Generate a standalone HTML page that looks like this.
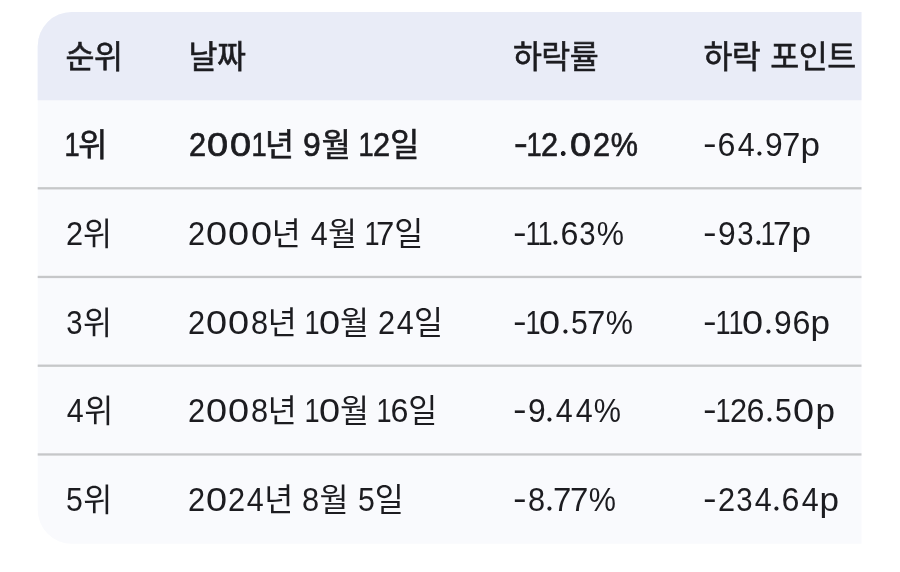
<!DOCTYPE html>
<html lang="ko">
<head>
<meta charset="utf-8">
<title>KOSPI 하락률 순위</title>
<style>
html,body{margin:0;padding:0;background:#fff}
body{width:900px;height:572px;overflow:hidden;position:relative;font-family:"Liberation Sans","Noto Sans CJK KR",sans-serif;color:#1c1c20}
#bg{position:absolute;left:0;top:0;width:900px;height:572px;display:block}
.row{will-change:transform;position:absolute;left:0;width:900px;height:60px;line-height:60px;font-size:34.0px;white-space:nowrap}
.c{position:absolute;top:0;left:0;height:60px;white-space:nowrap}
.c i{display:inline-block;font-style:normal;text-align:left;white-space:pre;transform-origin:0 41.78px}
.b i{-webkit-text-stroke:0.7px #1c1c20}
.c i.k{width:28.40px;font-size:31.5px;font-family:"Liberation Sans","Noto Sans CJK KR",sans-serif;color:#1c1c20}
.hd i.k{-webkit-text-stroke:0.6px #1c1c20}
.c i.one{width:12.55px;transform:translateX(-0.5px) scaleX(0.8)}
.b i.one{width:12.93px}
.d0{width:22.32px;transform:translateX(1.02px) scaleX(1.114)}
.b .d0{width:22.99px}
.d2{width:17.88px;transform:translateX(1.05px) scaleX(0.904)}
.b .d2{width:18.42px}
.d3{width:17.98px;transform:translateX(1.37px) scaleX(0.862)}
.b .d3{width:18.52px}
.d4{width:19.20px;transform:translateX(1.80px) scaleX(0.896)}
.b .d4{width:19.78px}
.d5{width:18.21px;transform:translateX(1.01px) scaleX(0.890)}
.b .d5{width:18.76px}
.d6{width:18.69px;transform:translateX(0.45px) scaleX(0.947)}
.b .d6{width:19.25px}
.d7{width:17.04px;transform:translateX(-0.98px) scaleX(0.970)}
.b .d7{width:17.55px}
.d8{width:18.30px;transform:translateX(0.90px) scaleX(0.903)}
.b .d8{width:18.85px}
.d9{width:18.81px;transform:translateX(0.99px) scaleX(0.936)}
.b .d9{width:19.37px}
.dt{width:9.06px;color:transparent;-webkit-text-stroke:0 !important;background:radial-gradient(circle at 4.45px 39.53px,#1c1c20 1.70px,transparent 2.40px)}
.b .dt{width:10.53px;background:radial-gradient(circle at 5.18px 39.53px,#1c1c20 2.05px,transparent 2.75px)}
.mn{width:13.76px;transform:translate(0.08px,-1.40px) scale(1.204,1.000)}
.b .mn{width:14.17px}
.pc{width:28.50px;transform:translateX(0.83px) scaleX(0.899)}
.b .pc{width:29.36px}
.lp{width:19.50px;transform:translateX(0.60px) scaleX(1.032)}
.b .lp{width:20.09px}
.sp{width:8.60px}.b .sp{width:8.86px}.hd .sp{width:10.20px}
</style>
</head>
<body>
<svg id="bg" viewBox="0 0 900 572" aria-hidden="true">
<path fill="#f9fafd" d="M861.5 12.0 H71.7 A34 34 0 0 0 37.7 46.0 V509.79999999999995 A34 34 0 0 0 71.7 543.8 H861.5 Z"/>
<path fill="#e9ecf7" d="M861.5 12.0 H71.7 A34 34 0 0 0 37.7 46.0 V100.2 H861.5 Z"/>
<rect fill="#c6c7c9" x="37.7" y="187.15" width="823.80" height="2.3"/>
<rect fill="#c6c7c9" x="37.7" y="275.80" width="823.80" height="2.3"/>
<rect fill="#c6c7c9" x="37.7" y="364.55" width="823.80" height="2.3"/>
<rect fill="#c6c7c9" x="37.7" y="453.30" width="823.80" height="2.3"/>
</svg>
<div class="row hd" style="top:25.82px"><span class="c" style="left:65.60px"><i class="k">순</i><i class="k">위</i></span><span class="c" style="left:188.50px"><i class="k">날</i><i class="k">짜</i></span><span class="c" style="left:512.90px"><i class="k">하</i><i class="k">락</i><i class="k">률</i></span><span class="c" style="left:703.40px"><i class="k">하</i><i class="k">락</i><i class="sp"> </i><i class="k">포</i><i class="k">인</i><i class="k">트</i></span></div>
<div class="row" style="top:114.02px"><span class="c b" style="left:65.30px"><i class="one">1</i><i class="k">위</i></span><span class="c b" style="left:187.80px"><i class="d2">2</i><i class="d0">0</i><i class="d0">0</i><i class="one">1</i><i class="k">년</i><i class="sp"> </i><i class="d9">9</i><i class="k">월</i><i class="sp"> </i><i class="one">1</i><i class="d2">2</i><i class="k">일</i></span><span class="c b" style="left:513.70px"><i class="mn">-</i><i class="one" style="margin-left:-1.15px">1</i><i class="d2">2</i><i class="dt">.</i><i class="d0">0</i><i class="d2">2</i><i class="pc">%</i></span><span class="c" style="left:703.40px"><i class="mn">-</i><i class="d6">6</i><i class="d4">4</i><i class="dt">.</i><i class="d9">9</i><i class="d7">7</i><i class="lp">p</i></span></div>
<div class="row" style="top:202.80px"><span class="c" style="left:65.00px"><i class="d2">2</i><i class="k">위</i></span><span class="c" style="left:187.00px"><i class="d2">2</i><i class="d0">0</i><i class="d0">0</i><i class="d0">0</i><i class="k">년</i><i class="sp"> </i><i class="d4">4</i><i class="k">월</i><i class="sp"> </i><i class="one">1</i><i class="d7" style="margin-left:-0.35px">7</i><i class="k">일</i></span><span class="c" style="left:512.90px"><i class="mn">-</i><i class="one" style="margin-left:-1.15px">1</i><i class="one">1</i><i class="dt">.</i><i class="d6">6</i><i class="d3">3</i><i class="pc">%</i></span><span class="c" style="left:703.40px"><i class="mn">-</i><i class="d9">9</i><i class="d3">3</i><i class="dt">.</i><i class="one" style="margin-left:-1.50px">1</i><i class="d7" style="margin-left:-0.35px">7</i><i class="lp">p</i></span></div>
<div class="row" style="top:291.58px"><span class="c" style="left:65.00px"><i class="d3">3</i><i class="k">위</i></span><span class="c" style="left:187.00px"><i class="d2">2</i><i class="d0">0</i><i class="d0">0</i><i class="d8">8</i><i class="k">년</i><i class="sp"> </i><i class="one">1</i><i class="d0" style="margin-left:0.40px">0</i><i class="k">월</i><i class="sp"> </i><i class="d2">2</i><i class="d4">4</i><i class="k">일</i></span><span class="c" style="left:512.90px"><i class="mn">-</i><i class="one" style="margin-left:-1.15px">1</i><i class="d0" style="margin-left:0.40px">0</i><i class="dt">.</i><i class="d5">5</i><i class="d7">7</i><i class="pc">%</i></span><span class="c" style="left:703.40px"><i class="mn">-</i><i class="one" style="margin-left:-1.15px">1</i><i class="one">1</i><i class="d0" style="margin-left:0.40px">0</i><i class="dt">.</i><i class="d9">9</i><i class="d6">6</i><i class="lp">p</i></span></div>
<div class="row" style="top:380.36px"><span class="c" style="left:65.00px"><i class="d4">4</i><i class="k">위</i></span><span class="c" style="left:187.00px"><i class="d2">2</i><i class="d0">0</i><i class="d0">0</i><i class="d8">8</i><i class="k">년</i><i class="sp"> </i><i class="one">1</i><i class="d0" style="margin-left:0.40px">0</i><i class="k">월</i><i class="sp"> </i><i class="one">1</i><i class="d6">6</i><i class="k">일</i></span><span class="c" style="left:512.90px"><i class="mn">-</i><i class="d9">9</i><i class="dt">.</i><i class="d4">4</i><i class="d4">4</i><i class="pc">%</i></span><span class="c" style="left:703.40px"><i class="mn">-</i><i class="one" style="margin-left:-1.15px">1</i><i class="d2">2</i><i class="d6">6</i><i class="dt">.</i><i class="d5">5</i><i class="d0">0</i><i class="lp">p</i></span></div>
<div class="row" style="top:469.14px"><span class="c" style="left:65.00px"><i class="d5">5</i><i class="k">위</i></span><span class="c" style="left:187.00px"><i class="d2">2</i><i class="d0">0</i><i class="d2">2</i><i class="d4">4</i><i class="k">년</i><i class="sp"> </i><i class="d8">8</i><i class="k">월</i><i class="sp"> </i><i class="d5">5</i><i class="k">일</i></span><span class="c" style="left:512.90px"><i class="mn">-</i><i class="d8">8</i><i class="dt">.</i><i class="d7">7</i><i class="d7">7</i><i class="pc">%</i></span><span class="c" style="left:703.40px"><i class="mn">-</i><i class="d2">2</i><i class="d3">3</i><i class="d4">4</i><i class="dt">.</i><i class="d6">6</i><i class="d4">4</i><i class="lp">p</i></span></div>
</body>
</html>
